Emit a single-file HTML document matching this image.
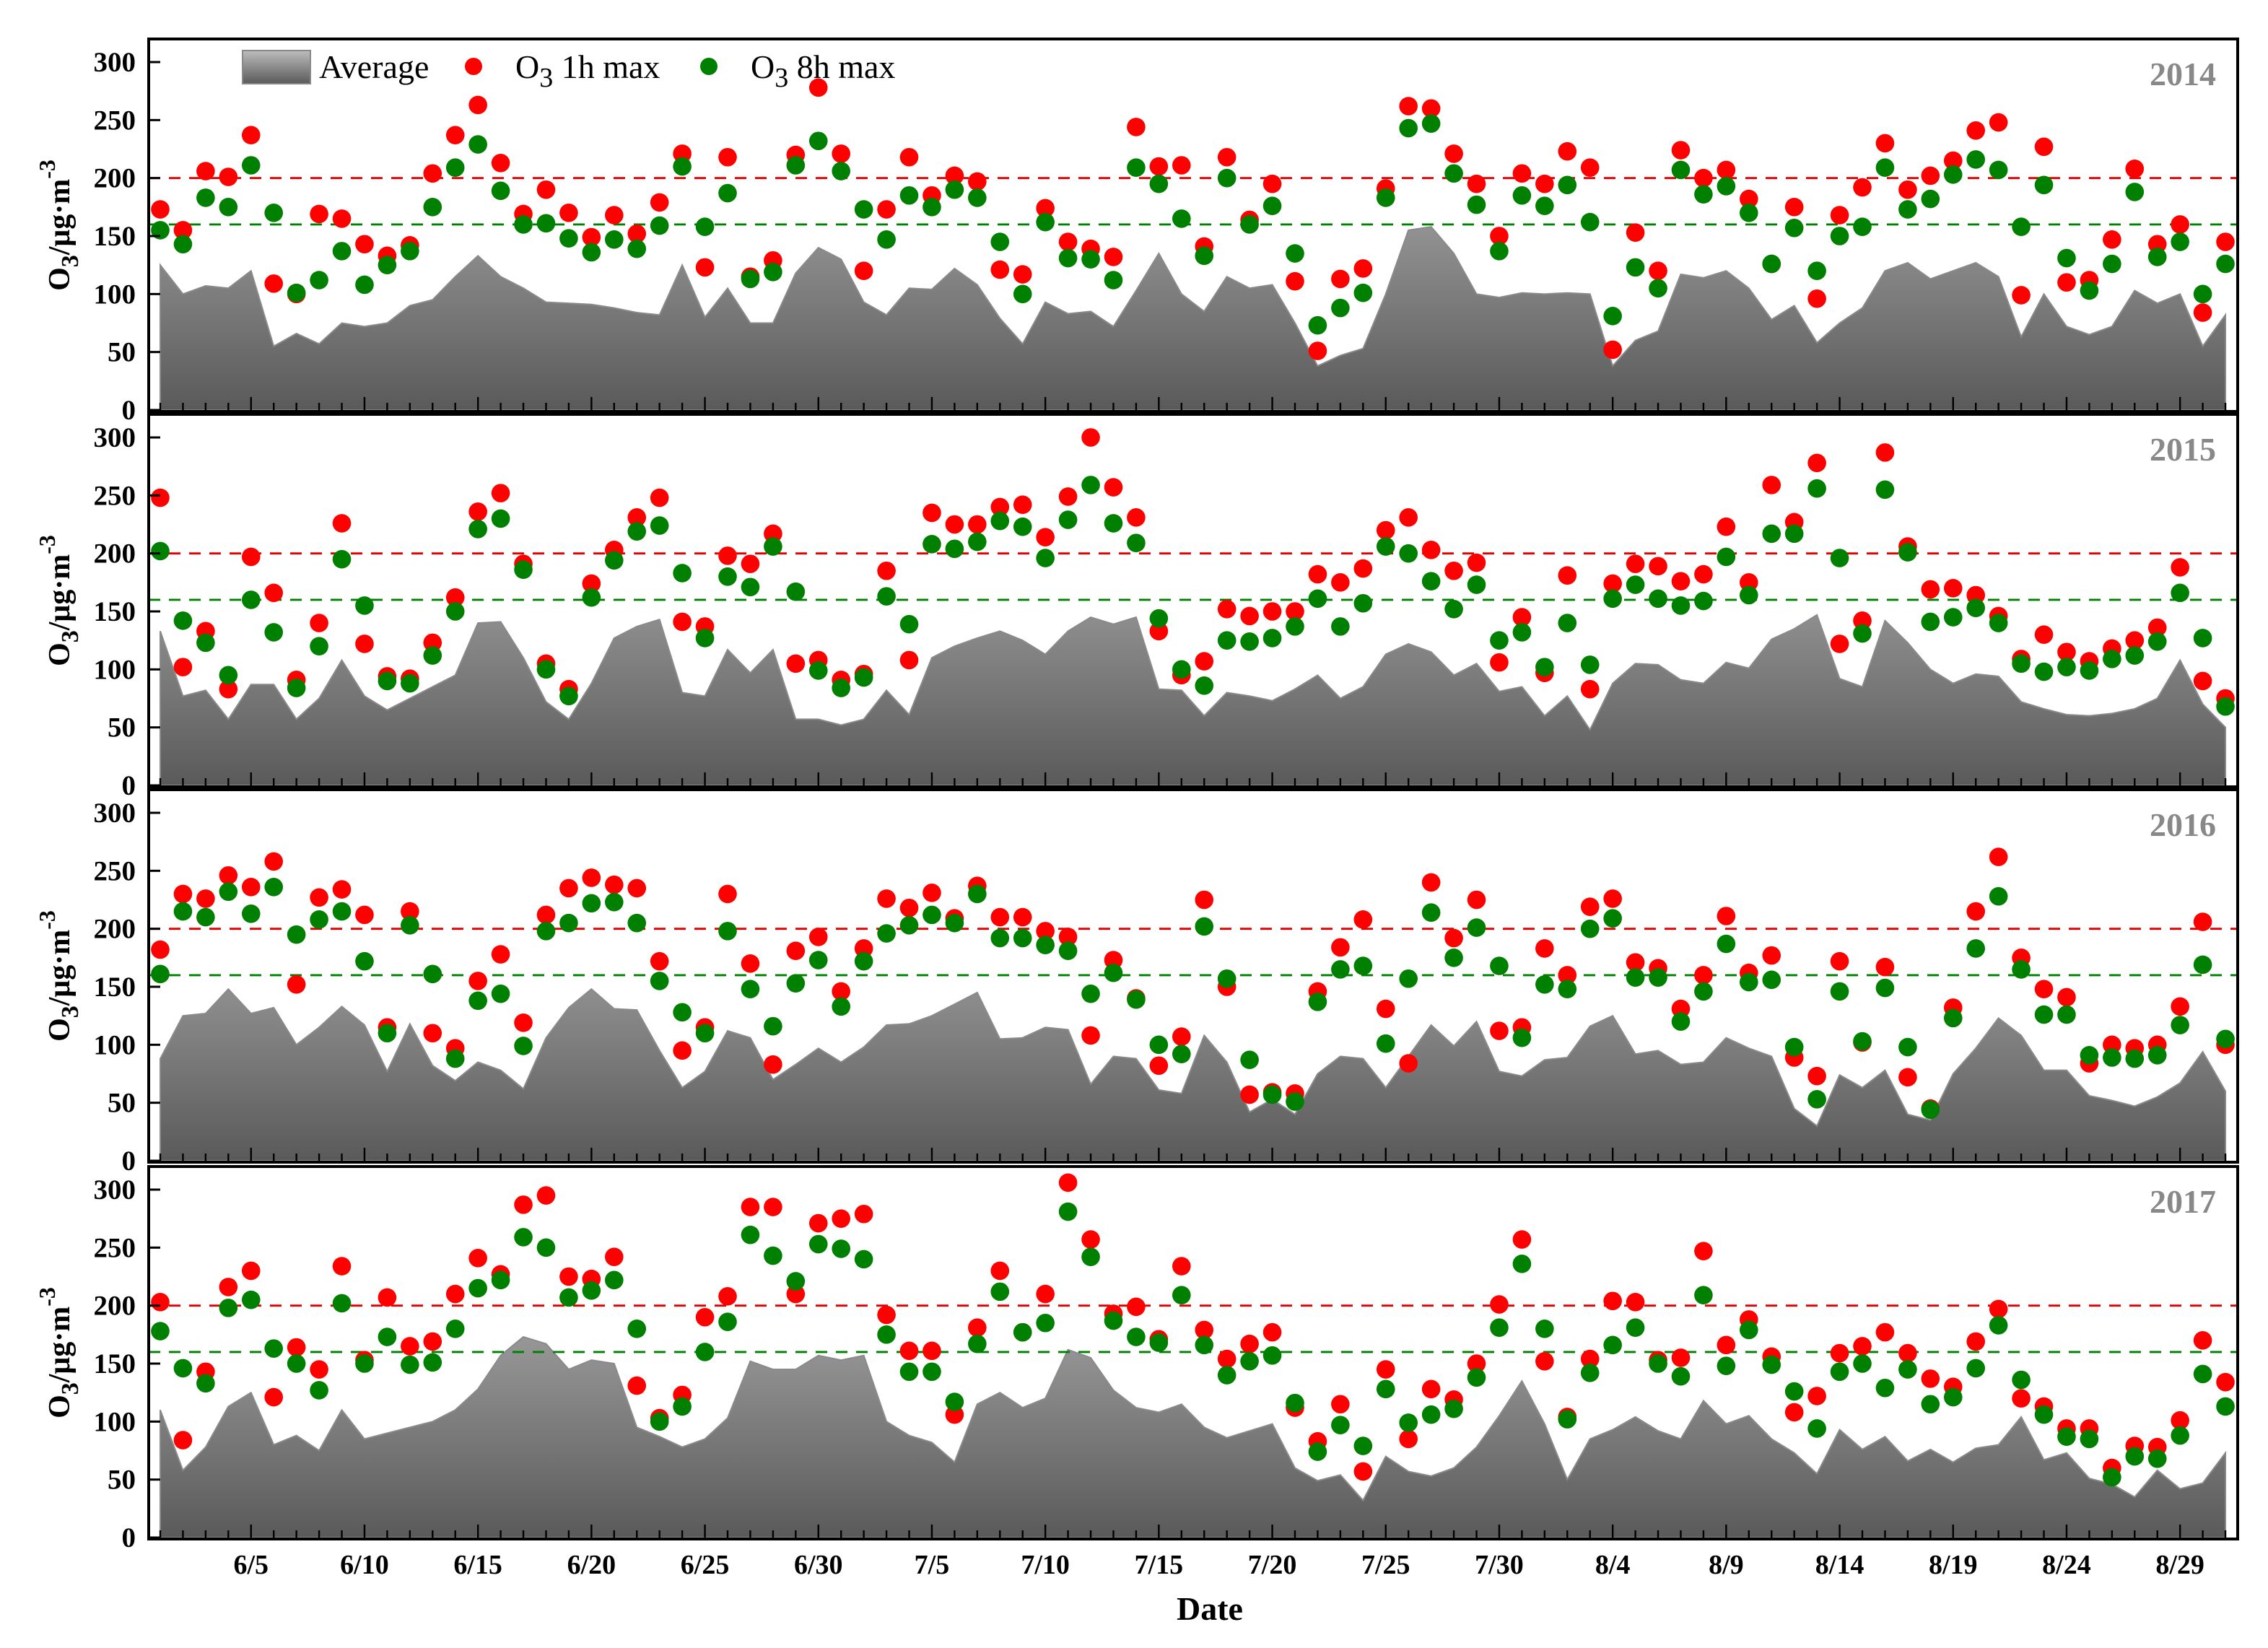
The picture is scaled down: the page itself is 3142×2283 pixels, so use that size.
<!DOCTYPE html>
<html><head><meta charset="utf-8"><style>
html,body{margin:0;padding:0;background:#fff}
svg{display:block}
text{font-family:"Liberation Serif",serif;font-weight:bold}
</style></head><body>
<svg id="chart" xmlns="http://www.w3.org/2000/svg" width="3142" height="2283" viewBox="0 0 1571 1141.5" preserveAspectRatio="none">
<g id="root"></g>
</svg>
<script>
const years = ["2014","2015","2016","2017"];
const tickLabels = ["6/5","6/10","6/15","6/20","6/25","6/30","7/5","7/10","7/15","7/20","7/25","7/30","8/4","8/9","8/14","8/19","8/24","8/29"];
const yTicks = [0,50,100,150,200,250,300];
const limit1h = 200;
const limit8h = 160;
const red2014 = [173,155,206,201,237,109,100,169,165,143,133,142,204,237,263,213,169,190,170,149,168,152,179,221,123,218,115,129,220,278,221,120,173,218,185,202,197,121,117,174,145,139,132,244,210,211,141,218,164,195,111,51,113,122,191,262,260,221,195,150,204,195,223,209,52,153,120,224,200,207,182,126,175,96,168,192,230,190,202,215,241,248,99,227,110,112,147,208,143,160,84,145];
const green2014 = [155,143,183,175,211,170,101,112,137,108,125,137,175,209,229,189,160,161,148,136,147,139,159,210,158,187,113,119,211,232,206,173,147,185,175,190,183,145,100,162,131,130,112,209,195,165,133,200,160,176,135,73,88,101,183,243,247,204,177,137,185,176,194,162,81,123,105,207,186,193,170,126,157,120,150,158,209,173,182,203,216,207,158,194,131,103,126,188,132,145,100,126];
const avg2014 = [125,100,107,105,120,55,66,57,75,72,75,90,95,115,133,115,105,93,92,91,88,84,82,125,80,105,75,75,118,140,130,93,82,105,104,122,108,79,57,93,83,85,72,103,135,100,85,115,105,108,75,38,47,53,100,155,158,135,100,97,101,100,101,100,38,60,68,117,114,120,105,78,90,58,75,88,120,127,113,120,127,115,63,100,72,65,72,103,92,100,55,82];
const red2015 = [248,102,133,83,197,166,91,140,226,122,94,92,123,162,236,252,191,105,83,174,203,231,248,141,137,198,191,217,105,108,91,96,185,108,235,225,225,240,242,214,249,300,257,231,133,95,107,152,146,150,150,182,175,187,220,231,203,185,192,106,145,97,181,83,174,191,189,176,182,223,175,259,227,278,122,142,287,206,169,170,164,146,109,130,115,107,118,125,136,188,90,75];
const green2015 = [202,142,123,95,160,132,84,120,195,155,90,88,112,150,221,230,186,100,77,162,194,219,224,183,127,180,171,206,167,99,84,93,163,139,208,204,210,228,223,196,229,259,226,209,144,100,86,125,124,127,137,161,137,157,206,200,176,152,173,125,132,102,140,104,161,173,161,155,159,197,164,217,217,256,196,131,255,201,141,145,153,140,105,98,102,99,109,112,124,166,127,68];
const avg2015 = [133,77,82,57,87,87,57,75,108,77,65,75,85,95,140,141,110,72,57,88,127,137,143,80,77,117,97,117,57,57,52,57,82,61,110,120,127,133,125,113,133,145,139,145,83,82,60,80,77,73,83,95,75,85,113,122,115,95,105,81,85,60,77,48,88,105,104,91,88,106,101,126,135,147,92,85,142,123,100,88,96,94,72,66,61,60,62,66,75,108,70,50];
const red2016 = [182,230,226,246,236,258,152,227,234,212,115,215,110,97,155,178,119,212,235,244,238,235,172,95,115,230,170,83,181,193,146,183,226,218,231,209,237,210,210,198,193,108,173,140,82,107,225,150,57,59,58,146,184,208,131,84,240,192,225,112,115,183,160,219,226,171,166,131,160,211,162,177,89,73,172,102,167,72,45,132,215,262,175,148,141,84,100,97,100,133,206,100];
const green2016 = [161,215,210,232,213,236,195,208,215,172,110,203,161,88,138,144,99,198,205,222,223,205,155,128,110,198,148,116,153,173,133,172,196,203,212,205,230,192,192,186,181,144,162,139,100,92,202,157,87,57,51,137,165,168,101,157,214,175,201,168,106,152,148,200,209,158,158,120,146,187,154,156,98,53,146,103,149,98,44,123,183,228,165,126,126,91,89,88,91,117,169,105];
const avg2016 = [88,125,127,148,127,132,100,115,133,117,77,118,82,69,85,78,62,106,132,148,131,130,95,63,77,112,106,70,83,97,85,98,117,118,125,135,145,105,106,115,113,66,90,88,61,58,108,85,42,53,40,75,90,88,63,90,117,99,120,77,73,87,89,116,125,92,95,83,85,106,97,90,45,30,74,63,78,40,35,75,97,123,108,78,78,56,52,47,55,67,94,60];
const red2017 = [203,84,143,216,230,121,164,145,234,153,207,165,169,210,241,227,287,295,225,223,242,131,103,123,190,208,285,285,210,271,275,279,192,161,161,106,181,230,177,210,306,257,193,199,171,234,179,154,167,177,112,83,115,57,145,85,128,119,150,201,257,152,104,154,204,203,153,155,247,166,188,156,108,122,159,165,177,159,137,130,169,197,120,113,94,94,60,79,78,101,170,134];
const green2017 = [178,146,133,198,205,163,150,127,202,150,173,149,151,180,215,222,259,250,207,213,222,180,100,113,160,186,261,243,221,253,249,240,175,143,143,117,167,212,177,185,281,242,187,173,168,209,166,140,152,157,116,74,97,79,128,99,106,111,138,181,236,180,102,142,166,181,150,139,209,148,179,149,126,94,143,150,129,145,115,121,146,183,136,106,87,85,52,70,68,88,141,113];
const avg2017 = [110,58,78,113,125,80,88,75,110,85,90,95,100,110,128,157,173,167,145,153,150,95,87,78,85,103,152,145,145,157,153,157,100,88,82,65,115,125,112,120,162,155,127,112,108,115,95,86,92,98,60,49,54,32,70,57,53,60,78,105,135,98,50,85,93,104,92,85,118,98,105,85,73,55,93,76,87,66,76,65,77,80,104,67,73,51,46,35,58,42,47,73];

const reds = [red2014, red2015, red2016, red2017];
const greens = [green2014, green2015, green2016, green2017];
const avgs = [avg2014, avg2015, avg2016, avg2017];

const NS = "http://www.w3.org/2000/svg";
const root = document.getElementById("root");
const L = 103, R = 1550;
const zeroY = [284, 544, 804, 1065];
const H = 241;
const DR = 6.4;
function xAt(i){ return 111 + i*15.72; }
function mk(tag, attrs, parent){
  const e = document.createElementNS(NS, tag);
  for (const k in attrs) e.setAttribute(k, attrs[k]);
  (parent||root).appendChild(e);
  return e;
}

years.forEach((yr, p) => {
  const y0 = zeroY[p];
  const yv = v => y0 - v/300*H;
  const g = mk("g", {});
  
  
  const gid = "grad" + p;
  const lg = mk("linearGradient", {id: gid, gradientUnits: "userSpaceOnUse", x1: 0, y1: y0-H, x2: 0, y2: y0}, g);
  mk("stop", {offset: 0, "stop-color": "#c4c4c4"}, lg);
  mk("stop", {offset: 1, "stop-color": "#5a5a5a"}, lg);
  const a = avgs[p];
  let d = "M" + xAt(0) + "," + y0;
  a.forEach((v, i) => { d += " L" + xAt(i).toFixed(2) + "," + yv(v).toFixed(2); });
  d += " L" + xAt(a.length-1).toFixed(2) + "," + y0 + " Z";
  const area = mk("path", {d: d, fill: "url(#" + gid + ")", stroke: "#8a8a8a", "stroke-width": 1}, g);
  
  
  const l1 = mk("line", {x1: L, x2: R, y1: yv(limit1h), y2: yv(limit1h), stroke: "#e00000", "stroke-width": 1.4, "stroke-dasharray": "8,6"}, g);
  
  
  const l2 = mk("line", {x1: L, x2: R, y1: yv(limit8h), y2: yv(limit8h), stroke: "#008000", "stroke-width": 1.4, "stroke-dasharray": "8,6"}, g);
  
  
  reds[p].forEach((v, i) => {
    const c = mk("circle", {cx: xAt(i).toFixed(2), cy: yv(v).toFixed(2), r: DR, fill: "#ff0000"}, g);
    
    
  });
  greens[p].forEach((v, i) => {
    const c = mk("circle", {cx: xAt(i).toFixed(2), cy: yv(v).toFixed(2), r: DR, fill: "#008000"}, g);
    
    
  });
  const fr = mk("rect", {x: L, y: y0-257, width: R-L, height: 258, fill: "none", stroke: "#000", "stroke-width": 2}, g);
  
  
  yTicks.forEach(t => {
    mk("line", {x1: L, x2: L+8, y1: yv(t), y2: yv(t), stroke: "#000", "stroke-width": 1.5}, g);
    const tx = mk("text", {x: L-9, y: yv(t)+6.5, "text-anchor": "end", "font-size": 19.5}, g);
    tx.textContent = t;
    
    
  });
  for (let i = 0; i < 92; i++) {
    const major = (i % 5) === 4;
    mk("line", {x1: xAt(i), x2: xAt(i), y1: y0, y2: y0 - (major ? 9 : 5), stroke: "#000", "stroke-width": 1.2}, g);
  }
  const yl = mk("text", {x: 1535, y: y0-225, "text-anchor": "end", "font-size": 23, fill: "#888"}, g);
  yl.textContent = yr;
  
  
  const yt = mk("text", {transform: "translate(48," + (y0-128) + ") rotate(-90)", "text-anchor": "middle", "font-size": 21}, g);
  yt.innerHTML = 'O<tspan dy="6" font-size="17">3</tspan><tspan dy="-6">/μg·m</tspan><tspan dy="-10" font-size="16">-3</tspan>';
  
  
});

tickLabels.forEach((lab, k) => {
  const i = 4 + k*5;
  const t = mk("text", {x: xAt(i), y: 1090, "text-anchor": "middle", "font-size": 19});
  t.textContent = lab;
  
  
});
const xt = mk("text", {x: 838, y: 1122, "text-anchor": "middle", "font-size": 23});
xt.textContent = "Date";



const lgG = mk("g", {});


const lgLin = mk("linearGradient", {id: "lgbox", x1: 0, y1: 0, x2: 0, y2: 1}, lgG);
mk("stop", {offset: 0, "stop-color": "#bdbdbd"}, lgLin);
mk("stop", {offset: 1, "stop-color": "#5a5a5a"}, lgLin);
const box = mk("rect", {x: 168, y: 35, width: 47, height: 23, fill: "url(#lgbox)", stroke: "#888", "stroke-width": 1}, lgG);


const t1 = mk("text", {x: 221, y: 54, "font-size": 23, style: "font-weight:normal"}, lgG);
t1.textContent = "Average";


mk("circle", {cx: 328, cy: 46, r: 6, fill: "#ff0000"}, lgG);
const t2 = mk("text", {x: 357, y: 54, "font-size": 23, style: "font-weight:normal"}, lgG);
t2.innerHTML = 'O<tspan dy="6" font-size="19">3</tspan><tspan dy="-6"> 1h max</tspan>';


mk("circle", {cx: 491, cy: 46, r: 6, fill: "#008000"}, lgG);
const t3 = mk("text", {x: 520, y: 54, "font-size": 23, style: "font-weight:normal"}, lgG);
t3.innerHTML = 'O<tspan dy="6" font-size="19">3</tspan><tspan dy="-6"> 8h max</tspan>';


</script>
</body></html>
